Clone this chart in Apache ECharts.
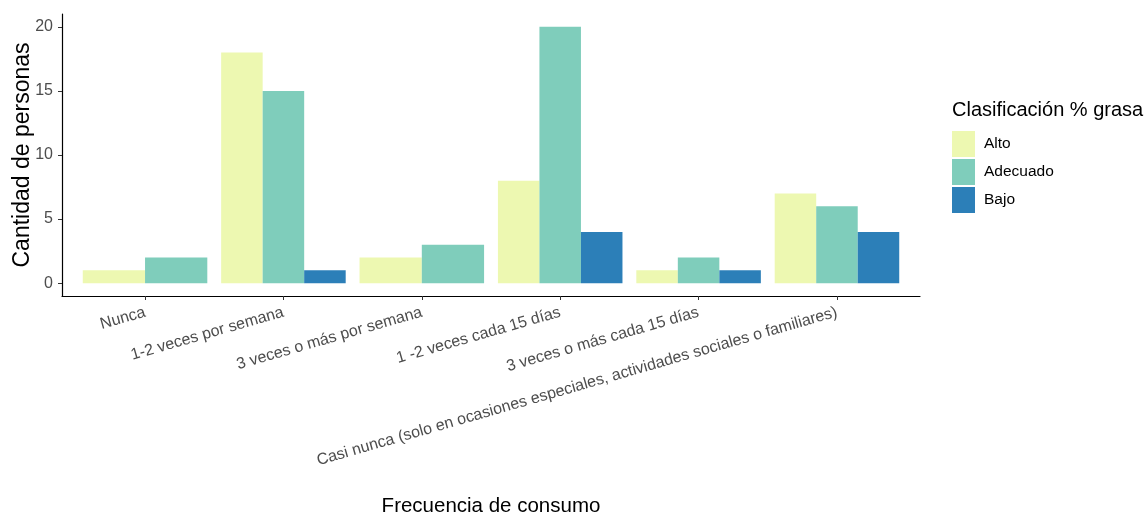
<!DOCTYPE html>
<html>
<head>
<meta charset="utf-8">
<script src="https://cdn.jsdelivr.net/npm/echarts@6/dist/echarts.min.js"></script>
<style>html,body{margin:0;padding:0;background:#fff}#c{width:1146px;height:518px}</style>
</head>
<body>
<div id="c"></div>
<script>
const categories = [
  "Nunca",
  "1-2 veces por semana",
  "3 veces o más por semana",
  "1 -2 veces cada 15 días",
  "3 veces o más cada 15 días",
  "Casi nunca (solo en ocasiones especiales, actividades sociales o familiares)"
];
const seriesNames = ["Alto", "Adecuado", "Bajo"];
const alto = [1, 18, 2, 8, 1, 7];
const adecuado = [2, 15, 3, 20, 2, 6];
const bajo = [null, 1, null, 4, 1, 4];
const yTicks = [0, 5, 10, 15, 20];
const xTicks = [1, 2, 3, 4, 5, 6];
const colors = ["#EDF8B1", "#7FCDBB", "#2C7FB8"];

const all = [alto, adecuado, bajo];
const FONT = "'Liberation Sans', Arial, sans-serif";

function buildData(si) {
  const out = [];
  categories.forEach((c, i) => {
    const present = all.map((a, j) => a[i] != null ? j : -1).filter(j => j >= 0);
    const k = present.indexOf(si);
    if (k >= 0) out.push([i + 1, all[si][i], present.length, k]);
  });
  return out;
}

function renderItem(params, api) {
  const x = api.value(0), v = api.value(1), n = api.value(2), k = api.value(3);
  const w = 0.9 / n;
  const left = x - 0.45 + k * w;
  const p1 = api.coord([left, v]);
  const p0 = api.coord([left + w, 0]);
  return {
    type: 'rect',
    shape: { x: p1[0], y: p1[1], width: p0[0] - p1[0], height: p0[1] - p1[1] },
    style: { fill: api.visual('color') }
  };
}

const chart = echarts.init(document.getElementById('c'), null, { renderer: 'canvas' });
chart.setOption({
  animation: false,
  textStyle: { fontFamily: FONT },
  grid: { left: 62, right: 226, top: 14, bottom: 222, containLabel: false, outerBoundsMode: 'none' },
  title: [{
    text: 'Clasificación % grasa', left: 952, top: 100, padding: 0,
    textStyle: { fontFamily: FONT, fontSize: 20, fontWeight: 'normal', color: '#000' }
  }],
  legend: {
    orient: 'vertical', left: 952, top: 131, padding: 0,
    itemWidth: 23, itemHeight: 26, itemGap: 2, icon: 'rect',
    textStyle: { fontFamily: FONT, fontSize: 15.5, color: '#000', padding: [0, 0, 0, 4] },
    data: seriesNames
  },
  xAxis: {
    type: 'value', min: 0.4, max: 6.6,
    name: 'Frecuencia de consumo', nameLocation: 'middle', nameGap: 200, nameMoveOverlap: false,
    nameTextStyle: { fontFamily: FONT, fontSize: 20.5, color: '#000' },
    axisLine: { show: true, onZero: false, lineStyle: { color: '#000', width: 1.2 } },
    axisTick: { show: true, length: 4, lineStyle: { color: '#333', width: 1 }, customValues: xTicks },
    axisLabel: {
      customValues: xTicks, rotate: 16, margin: 16,
      fontFamily: FONT, fontSize: 16, color: '#4D4D4D',
      formatter: v => categories[Math.round(v) - 1] || ''
    },
    splitLine: { show: false }
  },
  yAxis: {
    type: 'value', min: -1, max: 21,
    name: 'Cantidad de personas', nameLocation: 'middle', nameGap: 28, nameMoveOverlap: false,
    nameTextStyle: { fontFamily: FONT, fontSize: 23, color: '#000' },
    axisLine: { show: true, onZero: false, lineStyle: { color: '#000', width: 1.2 } },
    axisTick: { show: true, length: 4, lineStyle: { color: '#333', width: 1 }, customValues: yTicks },
    axisLabel: { customValues: yTicks, margin: 9, fontFamily: FONT, fontSize: 16, color: '#4D4D4D' },
    splitLine: { show: false }
  },
  series: seriesNames.map((name, si) => ({
    name, type: 'custom', renderItem,
    itemStyle: { color: colors[si] },
    encode: { x: 0, y: 1 },
    data: buildData(si)
  }))
});
</script>
</body>
</html>
